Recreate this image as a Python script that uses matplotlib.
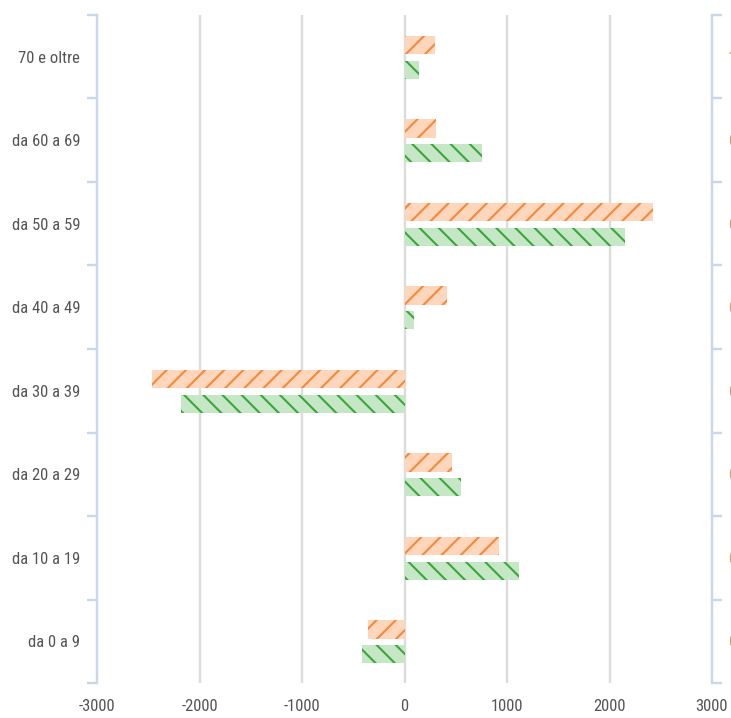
import matplotlib.pyplot as plt
import numpy as np
from matplotlib import font_manager

categories = ['da 0 a 9', 'da 10 a 19', 'da 20 a 29', 'da 30 a 39',
              'da 40 a 49', 'da 50 a 59', 'da 60 a 69', '70 e oltre']
serie_a = [-356, 922, 463, -2463, 415, 2424, 305, 298]   # orange
serie_b = [-415, 1117, 551, -2180, 93, 2151, 756, 140]    # green
right_labels = ['0', '0', '0', '0', '0', '0', '0', '1']
xticks = [-3000, -2000, -1000, 0, 1000, 2000, 3000]

# pick a narrow font if one is around
fonts = font_manager.fontManager.ttflist
names = set(f.name for f in fonts)
stretch = 'normal'
fam = 'Liberation Sans'
fsize = 10
for cand in ['Liberation Sans Narrow', 'Roboto Condensed', 'Open Sans Condensed']:
    if cand in names:
        fam = cand
        fsize = 10.4
        break
else:
    if any(f.name == 'DejaVu Sans' and 'Condensed' in f.fname for f in fonts):
        fam = 'DejaVu Sans'
        stretch = 'condensed'
        fsize = 10
plt.rcParams['font.family'] = [fam, 'DejaVu Sans']
plt.rcParams['font.stretch'] = stretch
plt.rcParams['hatch.linewidth'] = 1.3

DPI = 115
fig = plt.figure(figsize=(731 / DPI, 718 / DPI), dpi=DPI)
ax = fig.add_axes([97 / 731, 1 - 683 / 718, (712 - 97) / 731, (683 - 15) / 718])

y = np.arange(len(categories))
ax.barh(y + 0.14, serie_a, height=0.22, color='#fdd6bc', edgecolor='#f5883a',
        hatch='//', linewidth=0, zorder=3)
ax.barh(y - 0.155, serie_b, height=0.22, color='#c6e7c6', edgecolor='#3aa63a',
        hatch='\\\\', linewidth=0, zorder=3)

ax.set_xlim(-3000, 3000)
ax.set_ylim(-0.5, len(categories) - 0.5)
ax.set_xticks(xticks)
ax.set_xticklabels([str(v) for v in xticks])
ax.tick_params(axis='x', length=0, pad=10, labelsize=fsize, labelcolor='#555555')
for v in xticks[1:-1]:
    ax.axvline(v, color='#dcdcdc', lw=1.5, zorder=1)

spine_col = '#c9d7e8'
for s in ['top', 'bottom', 'right']:
    ax.spines[s].set_visible(False)
ax.spines['left'].set_color(spine_col)
ax.spines['left'].set_linewidth(1.5)

ax.set_yticks(np.arange(-0.5, len(categories)))
ax.set_yticklabels([])
ax.set_yticks(y, minor=True)
ax.set_yticklabels(categories, minor=True)
ax.tick_params(axis='y', which='major', length=6.3, width=1.5, color=spine_col)
ax.tick_params(axis='y', which='minor', length=0, pad=10.5, labelsize=fsize,
               labelcolor='#555555')

ax2 = ax.twinx()
ax2.set_ylim(ax.get_ylim())
for s in ['top', 'bottom', 'left']:
    ax2.spines[s].set_visible(False)
ax2.spines['right'].set_color(spine_col)
ax2.spines['right'].set_linewidth(1.5)
ax2.set_yticks(np.arange(-0.5, len(categories)))
ax2.set_yticklabels([])
ax2.set_yticks(y, minor=True)
ax2.set_yticklabels(right_labels, minor=True)
ax2.tick_params(axis='y', which='major', length=6.3, width=1.5, color=spine_col)
ax2.tick_params(axis='y', which='minor', length=0, pad=10, labelsize=fsize,
                labelcolor='#c9a27a')

fig.savefig('out.png', dpi=DPI)
